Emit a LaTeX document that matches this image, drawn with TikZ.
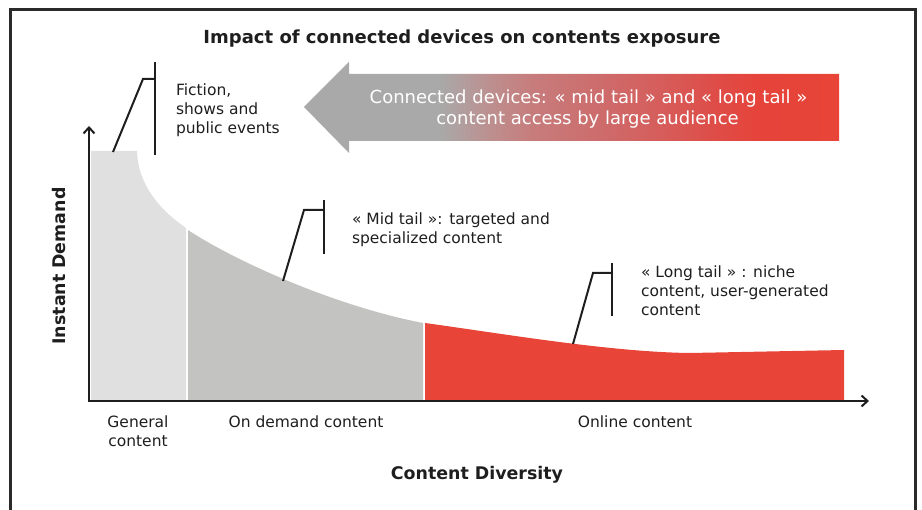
\documentclass[tikz,border=0pt]{standalone}
\usepackage{fontspec}
\setmainfont{DejaVu Sans}
\usetikzlibrary{arrows.meta}
\definecolor{lgray}{HTML}{E0E0E0}
\definecolor{mgray}{HTML}{C3C3C1}
\definecolor{tred}{HTML}{E84538}
\definecolor{ink}{HTML}{1E1E1E}
\definecolor{framec}{HTML}{2A2A2A}
\definecolor{agray}{HTML}{A9A9A9}
\definecolor{ashA}{HTML}{BD8F8F}
\definecolor{ashB}{HTML}{C77C7C}
\definecolor{ashC}{HTML}{CD6C6C}
\definecolor{ashD}{HTML}{D55E5C}
\definecolor{ashE}{HTML}{DE4D48}
\definecolor{ashF}{HTML}{E6433A}
\pgfdeclarehorizontalshading{arrowshade}{100bp}{color(0bp)=(agray); color(37.7bp)=(agray); color(42.4bp)=(ashA); color(46.3bp)=(ashB); color(52.5bp)=(ashC); color(58bp)=(ashD); color(63.2bp)=(ashE); color(67.6bp)=(ashF); color(75bp)=(tred); color(100bp)=(tred)}
\tikzset{
  framebox/.style={draw=framec, line width=3pt},
  axisline/.style={draw=ink, line width=2.5pt, -{Straight Barb[length=6pt,width=11pt,line width=2pt]}},
  callout/.style={draw=ink, line width=2pt},
  lbl/.style={inner sep=0pt, outer sep=0pt, text=ink, align=left, font=\fontsize{15.5}{19}\selectfont},
  clbl/.style={lbl, align=center},
  ttl/.style={inner sep=0pt, text=ink, font=\fontsize{18}{22}\selectfont\bfseries},
  axlbl/.style={inner sep=0pt, text=ink, font=\fontsize{17.4}{20}\selectfont\bfseries},
  arrtxt/.style={inner sep=0pt, text=white, font=\fontsize{18}{21}\selectfont},
}
\begin{document}
\begin{tikzpicture}[x=1pt,y=-1pt]
\useasboundingbox (0,0) rectangle (922,510);
\draw[framebox] (10,10) rectangle (915,540);

\node[ttl, anchor=base] (title) at (462,44) {Impact of connected devices on contents exposure};

% big arrow
\shade[shading=arrowshade] (304,107) -- (349,62) -- (349,74) -- (839,74) -- (839,141) -- (349,141) -- (349,153) -- cycle;
\node[arrtxt, anchor=base] (arrA) at (588.5,104) {Connected devices: « mid tail » and « long tail »};
\node[arrtxt, anchor=base] (arrB) at (587.5,125) {content access by large audience};

% regions
\fill[lgray] (91,400) -- (91,151) -- (137,151) .. controls (138,185) and (160,210) .. (186,228) -- (186,400) -- cycle;
\fill[mgray] (188,400) -- (188,230) .. controls (230,258) and (330,305) .. (423,323) -- (423,400) -- cycle;
\fill[tred] (425,400) -- (425,323) .. controls (505,334) and (610,352) .. (690,353) -- (844,350) -- (844,400) -- cycle;

% axes
\coordinate (O) at (89,402);
\coordinate (Ox) at (88,401);
\coordinate (ytip) at (89,126);
\coordinate (xtip) at (869,401);
\draw[axisline] (O) -- (ytip);
\draw[axisline] (Ox) -- (xtip);

% callouts
\coordinate (fa) at (113,152); \coordinate (fb) at (143,79); \coordinate (fc) at (155,79);
\coordinate (fd) at (155,62); \coordinate (fe) at (155,155);
\draw[callout] (fa) -- (fb) -- (fc);
\draw[callout] (fd) -- (fe);
\coordinate (ma) at (283,281); \coordinate (mb) at (304,210); \coordinate (mc) at (324,210);
\coordinate (md) at (324,200); \coordinate (me) at (324,254);
\draw[callout] (ma) -- (mb) -- (mc);
\draw[callout] (md) -- (me);
\coordinate (la) at (573,344); \coordinate (lb) at (593,273); \coordinate (lc) at (612,273);
\coordinate (ld) at (612,263); \coordinate (le) at (612,316);
\draw[callout] (la) -- (lb) -- (lc);
\draw[callout] (ld) -- (le);

% labels
\node[lbl, anchor=north west] (fic) at (176,84.2) {Fiction,\\shows and\\public events};
\node[lbl, anchor=north west] (mid) at (352,213.2) {« Mid tail »: targeted and\\specialized content};
\node[lbl, anchor=north west] (long) at (641,266.2) {« Long tail » : niche\\content, user-generated\\content};

\node[clbl, anchor=north] (gen) at (138,416.2) {General\\content};
\node[lbl, anchor=base] (ond) at (306,428) {On demand content};
\node[lbl, anchor=base] (onl) at (635,428) {Online content};
\node[axlbl, anchor=base] (xlab) at (477,480) {Content Diversity};
\node[axlbl, anchor=base, rotate=90] (ylab) at (65,266) {Instant Demand};
\end{tikzpicture}
\end{document}
